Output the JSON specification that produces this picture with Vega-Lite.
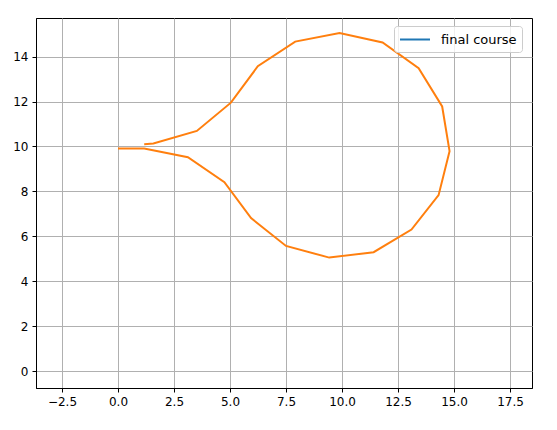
{
  "$schema": "https://vega.github.io/schema/vega-lite/v6.json",
  "width": 496,
  "height": 370,
  "autosize": "none",
  "padding": {"left": 36, "top": 18, "right": 25, "bottom": 42},
  "background": "white",
  "config": {
    "font": "DejaVu Sans",
    "view": {"stroke": "black", "strokeWidth": 1},
    "axis": {
      "domainColor": "black",
      "domainWidth": 1,
      "tickColor": "black",
      "tickSize": 4,
      "labelFont": "DejaVu Sans",
      "labelFontSize": 12,
      "labelColor": "black",
      "gridColor": "#b0b0b0",
      "gridWidth": 1,
      "title": null
    }
  },
  "data": {
    "values": [
      {"i": 0, "x": 0.0, "y": 9.91},
      {"i": 1, "x": 1.17, "y": 9.91},
      {"i": 2, "x": 3.12, "y": 9.52},
      {"i": 3, "x": 4.75, "y": 8.41},
      {"i": 4, "x": 5.94, "y": 6.81},
      {"i": 5, "x": 7.5, "y": 5.57},
      {"i": 6, "x": 9.43, "y": 5.05},
      {"i": 7, "x": 11.41, "y": 5.29},
      {"i": 8, "x": 13.1, "y": 6.3},
      {"i": 9, "x": 14.31, "y": 7.83},
      {"i": 10, "x": 14.8, "y": 9.79},
      {"i": 11, "x": 14.47, "y": 11.78},
      {"i": 12, "x": 13.42, "y": 13.48},
      {"i": 13, "x": 11.81, "y": 14.63},
      {"i": 14, "x": 9.89, "y": 15.05},
      {"i": 15, "x": 7.91, "y": 14.67},
      {"i": 16, "x": 6.24, "y": 13.57},
      {"i": 17, "x": 5.04, "y": 11.95},
      {"i": 18, "x": 3.52, "y": 10.69},
      {"i": 19, "x": 1.58, "y": 10.13},
      {"i": 20, "x": 1.17, "y": 10.1}
    ]
  },
  "encoding": {
    "x": {
      "field": "x", "type": "quantitative",
      "scale": {"domain": [-3.66, 18.48], "nice": false, "zero": false},
      "axis": {"values": [-2.5, 0, 2.5, 5, 7.5, 10, 12.5, 15, 17.5], "format": ".1f", "labelPadding": 4}
    },
    "y": {
      "field": "y", "type": "quantitative",
      "scale": {"domain": [-0.757, 15.72], "nice": false, "zero": false},
      "axis": {"values": [0, 2, 4, 6, 8, 10, 12, 14], "format": "d", "labelPadding": 4}
    },
    "order": {"field": "i", "type": "quantitative"}
  },
  "layer": [
    {
      "mark": {"type": "line", "strokeWidth": 2, "opacity": 0},
      "encoding": {
        "color": {
          "datum": "final course",
          "type": "nominal",
          "scale": {"domain": ["final course"], "range": ["#1f77b4"]},
          "legend": {
            "title": null,
            "orient": "none",
            "legendX": 358,
            "legendY": 8,
            "symbolType": "M-2,0H2",
            "symbolSize": 225,
            "symbolOffset": 7.5,
            "symbolStrokeWidth": 2,
            "symbolOpacity": 1,
            "symbolStrokeColor": "#1f77b4",
            "symbolFillColor": "transparent",
            "labelFontSize": 13,
            "labelFont": "DejaVu Sans",
            "labelColor": "black",
            "fillColor": "rgba(255,255,255,0.8)",
            "strokeColor": "#cccccc",
            "cornerRadius": 3,
            "padding": 5,
            "labelOffset": 17.5
          }
        }
      }
    },
    {
      "mark": {"type": "line", "strokeWidth": 2, "color": "#ff7f0e"}
    }
  ]
}
